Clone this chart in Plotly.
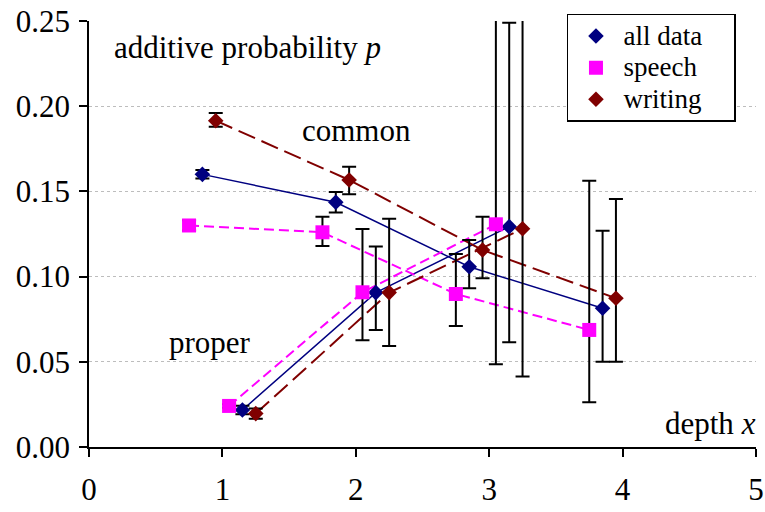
import plotly.graph_objects as go

# ---- data ----
common_x_speech = [0.75, 1.75, 2.75, 3.75]
common_x_all = [0.85, 1.85, 2.85, 3.85]
common_x_writing = [0.95, 1.95, 2.95, 3.95]
proper_x_speech = [1.05, 2.05, 3.05]
proper_x_all = [1.15, 2.15, 3.15]
proper_x_writing = [1.25, 2.25, 3.25]

common_all = [0.160, 0.1436, 0.1058, 0.0814]
common_all_up = [0.0025, 0.006, 0.0157, 0.0455]
common_all_dn = [0.0025, 0.006, 0.0127, 0.0313]
proper_all = [0.0217, 0.0906, 0.1293]
proper_all_up = [0.0025, 0.027, 0.1197]
proper_all_dn = [0.0025, 0.022, 0.0679]

common_speech = [0.130, 0.126, 0.0898, 0.0687]
common_speech_up = [0.003, 0.0091, 0.0235, 0.0876]
common_speech_dn = [0.003, 0.008, 0.0188, 0.0425]
proper_speech = [0.0241, 0.0908, 0.1307]
proper_speech_up = [0.001, 0.0371, 0.15]
proper_speech_dn = [0.001, 0.0282, 0.0822]

common_writing = [0.1915, 0.1567, 0.1156, 0.0873]
common_writing_up = [0.0045, 0.0078, 0.0195, 0.0582]
common_writing_dn = [0.0035, 0.0084, 0.0166, 0.0372]
proper_writing = [0.0196, 0.0906, 0.1281]
proper_writing_up = [0.003, 0.0434, 0.15]
proper_writing_dn = [0.003, 0.0313, 0.0868]

x_ticks = [0, 1, 2, 3, 4, 5]
y_ticks = [0.00, 0.05, 0.10, 0.15, 0.20, 0.25]
y_tick_text = ["0.00", "0.05", "0.10", "0.15", "0.20", "0.25"]

NAVY = "#000080"
MAGENTA = "#FF00FF"
DARKRED = "#800000"
FONT = "Liberation Serif"

series = [
    ("all data", NAVY, "diamond", 12, "solid", 1.5,
     common_x_all, common_all, common_all_up, common_all_dn,
     proper_x_all, proper_all, proper_all_up, proper_all_dn),
    ("speech", MAGENTA, "square", 14, "10px,5px", 2,
     common_x_speech, common_speech, common_speech_up, common_speech_dn,
     proper_x_speech, proper_speech, proper_speech_up, proper_speech_dn),
    ("writing", DARKRED, "diamond", 12, "18px,7px", 2,
     common_x_writing, common_writing, common_writing_up, common_writing_dn,
     proper_x_writing, proper_writing, proper_writing_up, proper_writing_dn),
]

fig = go.Figure()

# lines first
for (name, col, sym, sz, dash, lw, cx, cy, cu, cd, px, py, pu, pd) in series:
    for xs, ys in ((cx, cy), (px, py)):
        fig.add_trace(go.Scatter(x=xs, y=ys, mode="lines",
                                 line=dict(color=col, width=lw, dash=dash),
                                 showlegend=False, hoverinfo="skip"))

# markers with error bars
for (name, col, sym, sz, dash, lw, cx, cy, cu, cd, px, py, pu, pd) in series:
    for i, (xs, ys, up, dn) in enumerate(((cx, cy, cu, cd), (px, py, pu, pd))):
        fig.add_trace(go.Scatter(
            x=xs, y=ys, mode="markers",
            name='<span style="font-size:27px">' + name
                 + '&nbsp;&nbsp;&nbsp;&nbsp;</span>',
            legendgroup=name, showlegend=(i == 0),
            marker=dict(color=col, symbol=sym, size=sz, line=dict(width=0)),
            error_y=dict(type="data", symmetric=False, array=up, arrayminus=dn,
                         color="black", thickness=2, width=7),
        ))

fig.update_layout(
    width=765, height=512,
    margin=dict(l=89, r=9, t=21, b=65, autoexpand=False),
    paper_bgcolor="white", plot_bgcolor="white",
    font=dict(family=FONT, size=30, color="black"),
    legend=dict(x=0.7166, y=1.017, xanchor="left", yanchor="top",
                bgcolor="white", bordercolor="black", borderwidth=1.5,
                font=dict(family=FONT, size=22), tracegroupgap=0,
                itemwidth=45),
    xaxis=dict(range=[0, 5], tickvals=x_ticks, showgrid=False, zeroline=False,
               showline=True, linecolor="black", linewidth=1.5,
               ticks="outside", ticklen=8, tickwidth=1.5, tickcolor="black",
               ticklabelstandoff=6, automargin=False,
               tickfont=dict(family=FONT, size=31)),
    yaxis=dict(range=[0, 0.25], tickvals=y_ticks, ticktext=y_tick_text,
               showgrid=True, gridcolor="#bdbdbd", griddash="dot", gridwidth=1,
               zeroline=False, showline=True, linecolor="black", linewidth=1.5,
               ticks="outside", ticklen=8, tickwidth=1.5, tickcolor="black",
               ticklabelstandoff=3, automargin=False,
               tickfont=dict(family=FONT, size=31)),
)


def px_to_x(p):
    return (p - 89) / (756 - 89) * 5


def px_to_y(p):
    return (447 - p) / (447 - 21) * 0.25


for txt, cx_, cy_ in [("additive probability <i>p</i>", 247, 47),
                      ("common", 356, 130),
                      ("proper", 210, 342),
                      ("depth <i>x</i>", 710, 423)]:
    fig.add_annotation(text=txt, x=px_to_x(cx_), y=px_to_y(cy_), xref="x", yref="y",
                       showarrow=False, font=dict(family=FONT, size=31),
                       xanchor="center", yanchor="middle")

fig.write_html("out.html")
